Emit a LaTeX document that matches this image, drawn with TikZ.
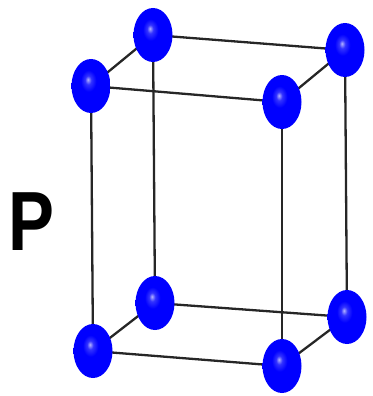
\documentclass[tikz,border=0pt]{standalone}
\usepackage{fontspec}
\setmainfont{Liberation Sans}
\usetikzlibrary{shapes.geometric}
\begin{document}
\pgfdeclareradialshading{atomshade}{\pgfpoint{-4bp}{6bp}}{%
  color(0bp)=(white!70!blue);
  color(4bp)=(blue!80!white);
  color(10bp)=(blue);
  color(50bp)=(blue)}
\begin{tikzpicture}[x=1pt,y=-1pt,
  edge/.style={line width=2.3pt,black!85},
  atom/.style={ellipse,minimum width=39pt,minimum height=54pt,inner sep=0pt,
    shading=atomshade,draw=none}]
\useasboundingbox (0,0) rectangle (372,396);
% lattice corner positions
\coordinate (tbl) at (153,35);
\coordinate (tbr) at (345,50);
\coordinate (tfl) at (91,86);
\coordinate (tfr) at (282,102);
\coordinate (bbl) at (155,303);
\coordinate (bbr) at (347,317);
\coordinate (bfl) at (93,351);
\coordinate (bfr) at (282,366);
% cell edges
\draw[edge] (tbl) -- (tbr) -- (tfr) -- (tfl) -- cycle;
\draw[edge] (bbl) -- (bbr) -- (bfr) -- (bfl) -- cycle;
\draw[edge] (tbl) -- (bbl);
\draw[edge] (tbr) -- (bbr);
\draw[edge] (tfl) -- (bfl);
\draw[edge] (tfr) -- (bfr);
% atoms at the corners
\foreach \c in {tbl,tbr,tfl,tfr,bbl,bbr,bfl,bfr}
  \node[atom] (a-\c) at (\c) {};
% lattice type label
\node[font=\fontsize{84}{84}\selectfont\bfseries,inner sep=0pt,xscale=0.82] (lbl) at (31,222) {P};
\end{tikzpicture}
\end{document}
